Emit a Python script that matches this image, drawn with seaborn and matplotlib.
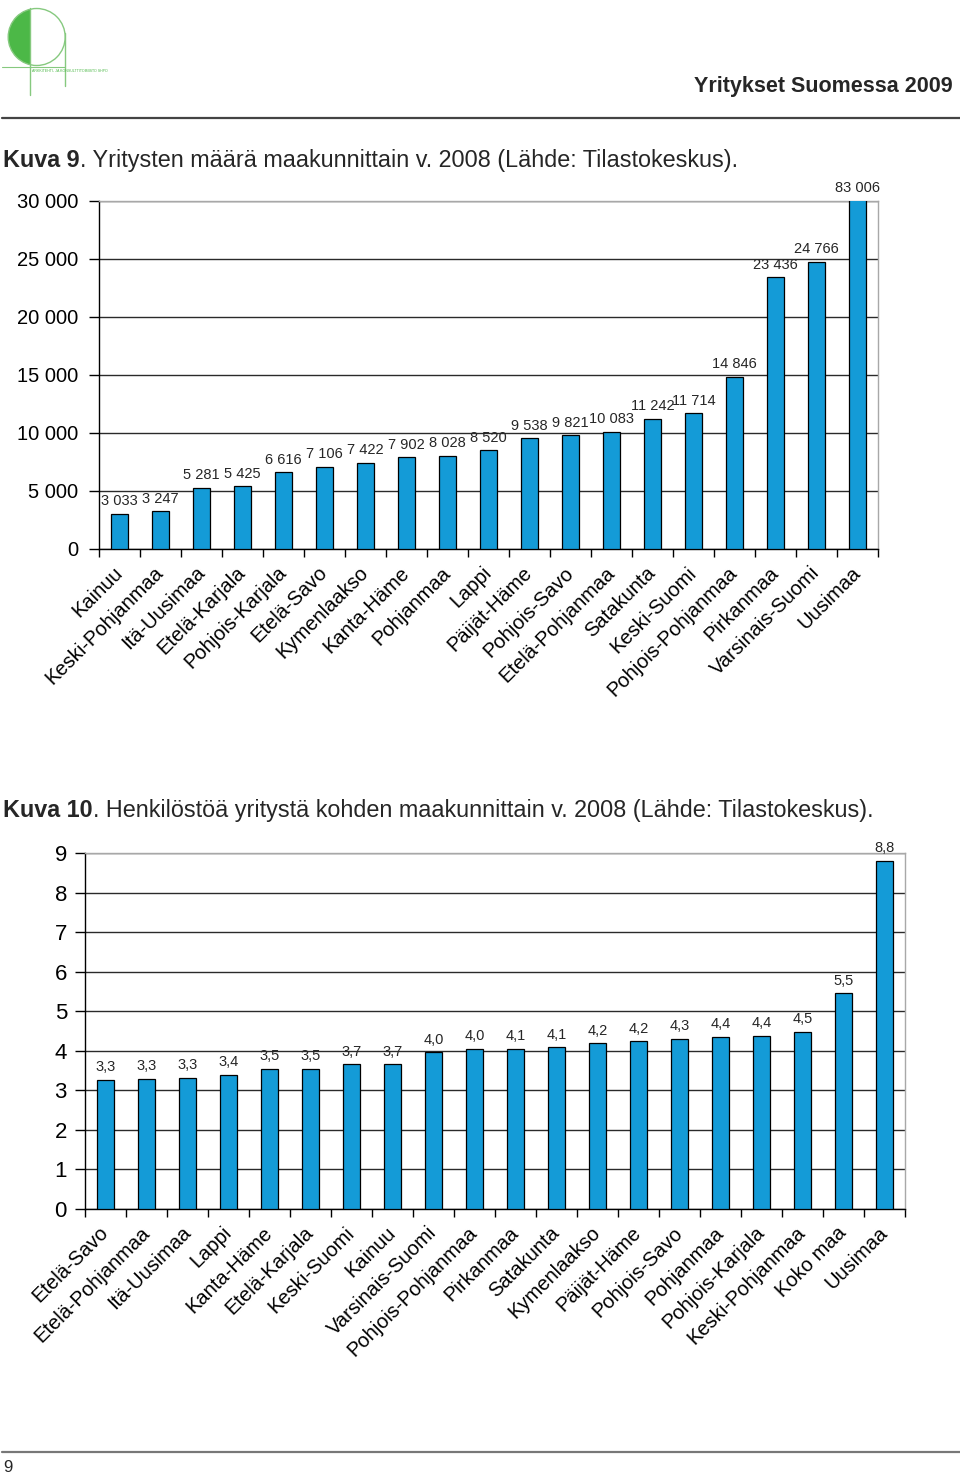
import numpy as np
import pandas as pd
import matplotlib
matplotlib.use("Agg")
import matplotlib.pyplot as plt
from matplotlib.lines import Line2D
from matplotlib.patches import Circle, Polygon
from matplotlib.ticker import FixedLocator, FuncFormatter
import seaborn as sns

# Kuva 9: number of firms per region, 2008
regions_firms = [
    "Kainuu", "Keski-Pohjanmaa", "Itä-Uusimaa", "Etelä-Karjala", "Pohjois-Karjala",
    "Etelä-Savo", "Kymenlaakso", "Kanta-Häme", "Pohjanmaa", "Lappi", "Päijät-Häme",
    "Pohjois-Savo", "Etelä-Pohjanmaa", "Satakunta", "Keski-Suomi", "Pohjois-Pohjanmaa",
    "Pirkanmaa", "Varsinais-Suomi", "Uusimaa",
]
firms = [3033, 3247, 5281, 5425, 6616, 7106, 7422, 7902, 8028, 8520, 9538,
         9821, 10083, 11242, 11714, 14846, 23436, 24766, 83006]

# Kuva 10: staff per firm, 2008
regions_staff = [
    "Etelä-Savo", "Etelä-Pohjanmaa", "Itä-Uusimaa", "Lappi", "Kanta-Häme",
    "Etelä-Karjala", "Keski-Suomi", "Kainuu", "Varsinais-Suomi", "Pohjois-Pohjanmaa",
    "Pirkanmaa", "Satakunta", "Kymenlaakso", "Päijät-Häme", "Pohjois-Savo",
    "Pohjanmaa", "Pohjois-Karjala", "Keski-Pohjanmaa", "Koko maa", "Uusimaa",
]
staff = [3.27, 3.29, 3.32, 3.40, 3.54, 3.54, 3.66, 3.66, 3.96, 4.05,
         4.05, 4.09, 4.19, 4.24, 4.31, 4.35, 4.38, 4.48, 5.45, 8.80]
staff_labels = ["3,3", "3,3", "3,3", "3,4", "3,5", "3,5", "3,7", "3,7", "4,0", "4,0",
                "4,1", "4,1", "4,2", "4,2", "4,3", "4,4", "4,4", "4,5", "5,5", "8,8"]

BAR = "#149bd7"
GREEN = "#4cb847"
GREEN_LT = "#86c97f"

sns.set_theme(style="white")
plt.rcParams["font.family"] = ["Liberation Sans", "DejaVu Sans"]

W, H = 960, 1476
fig = plt.figure(figsize=(W / 100, H / 100), dpi=100)


def px_axes(x0, y0, x1, y1):
    return fig.add_axes([x0 / W, 1 - y1 / H, (x1 - x0) / W, (y1 - y0) / H])


def hline(y, x0, x1, color, lw):
    fig.add_artist(Line2D([x0 / W, x1 / W], [1 - y / H, 1 - y / H],
                          transform=fig.transFigure, color=color, lw=lw))


def caption(y, bold, rest, size=16.8):
    t = fig.text(3 / W, 1 - y / H, bold, fontsize=size, fontweight="bold", va="baseline")
    bb = t.get_window_extent(fig.canvas.get_renderer())
    fig.text(bb.x1 / W, 1 - y / H, rest, fontsize=size, va="baseline")


def bar_panel(ax, cats, vals, texts, ymax, step, fmt, ysize, ypad, lblsize):
    df = pd.DataFrame({"region": cats, "value": vals})
    sns.barplot(data=df, x="region", y="value", ax=ax, color=BAR, saturation=1,
                width=0.4, edgecolor="black", linewidth=0.9, zorder=3)
    n = len(cats)
    ax.set_xlim(-0.5, n - 0.5)
    ax.set_ylim(0, ymax)
    ax.set_xlabel("")
    ax.set_ylabel("")
    ax.set_yticks(np.arange(0, ymax + step / 2, step))
    ax.yaxis.set_major_formatter(FuncFormatter(fmt))
    ax.yaxis.grid(True, color="#2a2a2a", lw=1)
    ax.set_axisbelow(True)
    ax.tick_params(axis="y", left=True, length=7, width=1, color="black",
                   direction="out", pad=ypad, labelsize=ysize, labelcolor="black")
    ax.xaxis.set_minor_locator(FixedLocator(np.arange(-0.5, n, 1.0)))
    ax.tick_params(axis="x", which="minor", bottom=True, length=6, width=1,
                   color="black", direction="out")
    ax.tick_params(axis="x", which="major", bottom=True, length=0, pad=15,
                   labelsize=14.5, labelcolor="black")
    for lbl in ax.get_xticklabels():
        lbl.set_rotation(45)
        lbl.set_ha("right")
        lbl.set_va("center")
        lbl.set_rotation_mode("anchor")
    for side in ["left", "bottom"]:
        ax.spines[side].set_color("black")
        ax.spines[side].set_linewidth(1)
    for side in ["top", "right"]:
        ax.spines[side].set_color("#a8a8a8")
        ax.spines[side].set_linewidth(1)
    for i, (v, s) in enumerate(zip(vals, texts)):
        ax.annotate(s, (i, min(v, ymax)), xytext=(0, 4), textcoords="offset points",
                    ha="center", va="bottom", fontsize=lblsize, annotation_clip=False)


# logo
lg = px_axes(0, 0, 130, 100)
lg.set_xlim(0, 130)
lg.set_ylim(100, 0)
lg.axis("off")
cx, cy, r = 36.7, 37.0, 28.5
th = np.arccos((30 - cx) / r)
t = np.linspace(th, 2 * np.pi - th, 60)
lg.add_patch(Polygon(np.column_stack([cx + r * np.cos(t), cy + r * np.sin(t)]),
                     closed=True, fc=GREEN, ec="none"))
lg.add_patch(Circle((cx, cy), r, fill=False, ec=GREEN_LT, lw=1))
lg.plot([30, 30], [8, 95], color=GREEN_LT, lw=1)
lg.plot([64.5, 64.5], [33, 86], color=GREEN_LT, lw=1)
lg.plot([2, 64.5], [67, 67], color=GREEN_LT, lw=0.8)
lg.text(32, 71, "ARKKITEHTI- JA KONSULTTITOIMISTO SHPO", fontsize=2.6,
        color=GREEN, va="center")

fig.text(953 / W, 1 - 92 / H, "Yritykset Suomessa 2009", fontsize=15.5,
         fontweight="bold", ha="right", va="baseline")
hline(118, 2, 960, "#444444", 1.6)

caption(167, "Kuva 9", ". Yritysten määrä maakunnittain v. 2008 (Lähde: Tilastokeskus).")
ax1 = px_axes(99, 201, 878, 549)
bar_panel(ax1, regions_firms, firms, [f"{v:,}".replace(",", " ") for v in firms],
          30000, 5000, lambda v, p: f"{int(v):,}".replace(",", " "), 14.5, 8, 10.5)

caption(817, "Kuva 10", ". Henkilöstöä yritystä kohden maakunnittain v. 2008 (Lähde: Tilastokeskus).")
ax2 = px_axes(85, 853, 905, 1209)
bar_panel(ax2, regions_staff, staff, staff_labels, 9, 1,
          lambda v, p: f"{int(v)}", 16, 6, 10.5)

hline(1452, 2, 960, "#777777", 1.6)
fig.text(3 / W, 1 - 1468 / H, "9", fontsize=12, va="center")

fig.savefig("out.png", dpi=100)
